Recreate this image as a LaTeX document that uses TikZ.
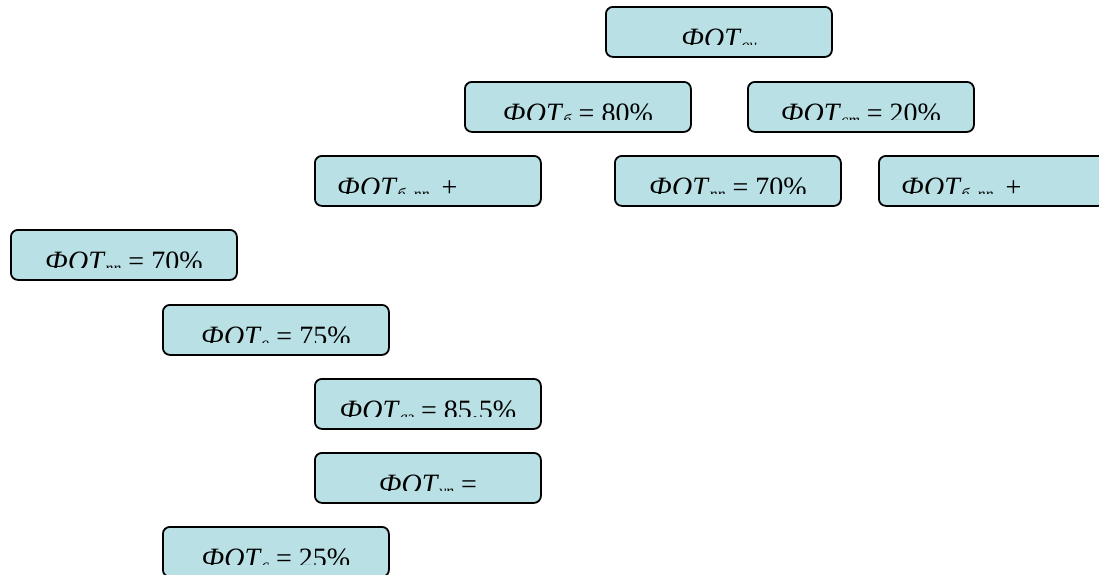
\documentclass[tikz,border=0pt]{standalone}
\usepackage{fontspec}
\setmainfont{Liberation Serif}
\usetikzlibrary{calc}
\definecolor{boxfill}{RGB}{185,224,228}
\tikzset{
  boxst/.style={draw=black, line width=1.8pt, fill=boxfill, rounded corners=7pt,
    minimum width=226pt, minimum height=50pt, inner sep=0pt, anchor=north west},
  lbl/.style={font=\fontsize{28}{32}\selectfont, inner sep=0pt, anchor=base},
  lbll/.style={font=\fontsize{28}{32}\selectfont, inner sep=0pt, anchor=base west}
}
\newcommand\fo[1]{\textit{ФОТ}{\fontsize{16}{17}\selectfont\raisebox{-2.5pt}{\textit{#1}}}}
\begin{document}
\begin{tikzpicture}[x=1pt,y=-1pt]
\useasboundingbox (0,0) rectangle (1099,574);
\node[boxst] (b1) at (605,6) {};
\node[boxst] (b2) at (464,81) {};
\node[boxst] (b3) at (747,81) {};
\node[boxst] (b4) at (314,155) {};
\node[boxst] (b5) at (614,155) {};
\node[boxst] (b6) at (878,155) {};
\node[boxst] (b7) at (10,229) {};
\node[boxst] (b8) at (162,304) {};
\node[boxst] (b9) at (314,378) {};
\node[boxst] (b10) at (314,452) {};
\node[boxst] (b11) at (162,526) {};
\foreach \b/\t in {b1/{\fo{оу}}, b2/{\fo{б} = 80\%}, b3/{\fo{ст} = 20\%}, b5/{\fo{пп} = 70\%},
  b7/{\fo{пп} = 70\%}, b8/{\fo{о} = 75\%}, b9/{\fo{аз} = 85,5\%}, b10/{\fo{уп} =}, b11/{\fo{с} = 25\%}}{
  \begin{scope}
    \clip ($(\b.north west)+(0,2)$) rectangle ($(\b.south east)+(0,-13)$);
    \node[lbl] (t\b) at ($(\b.south)+(0,-10)$) {\t};
  \end{scope}
}
\foreach \b in {b4,b6}{
  \begin{scope}
    \clip ($(\b.north west)+(0,2)$) rectangle ($(\b.south east)+(0,-13)$);
    \node[lbll] (t\b) at ($(\b.south west)+(23,-10)$) {\fo{б.\ пп}\hspace{5pt} +};
  \end{scope}
}
\end{tikzpicture}
\end{document}
